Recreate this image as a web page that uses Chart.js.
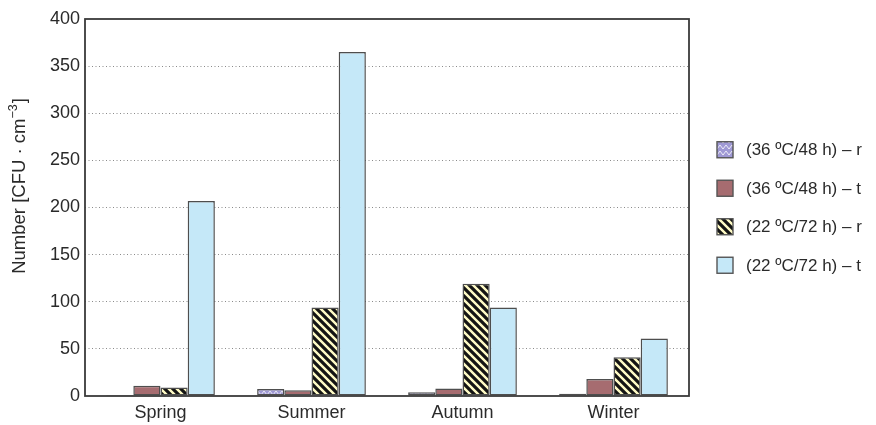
<!DOCTYPE html>
<html>
<head>
<meta charset="utf-8">
<script src="https://cdn.jsdelivr.net/npm/chart.js@4.4.1/dist/chart.umd.min.js"></script>
<style>
  html, body { margin: 0; padding: 0; background: #fff; }
  #wrap { width: 876px; height: 425px; position: relative; }
</style>
</head>
<body>
<div id="wrap"><canvas id="c" width="876" height="425"></canvas></div>
<script>
// Seasons on the category axis
const seasons = ['Spring', 'Summer', 'Autumn', 'Winter'];
// Series labels
const seriesLabels = ['(36 ºC/48 h) – r', '(36 ºC/48 h) – t', '(22 ºC/72 h) – r', '(22 ºC/72 h) – t'];
// Counts, CFU per cm³
const r36 = [1, 7.5, 4, 2.5];
const t36 = [11, 6, 8, 18];
const r22 = [9, 94, 119, 41];
const t22 = [207, 365, 94, 61];
// Value axis ticks
const yTicks = [0, 50, 100, 150, 200, 250, 300, 350, 400];
// Value axis title: main part and raised exponent
const yTitleMain = 'Number [CFU · cm';
const yTitleExp = '−3';
const yTitleEnd = ']';

const FONT = '"Liberation Sans", Arial, sans-serif';
const INK = '#2a2a2a';

function makeTile(size, paint) {
  const cv = document.createElement('canvas');
  cv.width = size; cv.height = size;
  const g = cv.getContext('2d');
  paint(g, size);
  return document.getElementById('c').getContext('2d').createPattern(cv, 'repeat');
}

// lavender with a light zigzag lattice
const latticeFill = makeTile(6, (g, s) => {
  g.fillStyle = '#9f99d4';
  g.fillRect(0, 0, s, s);
  g.strokeStyle = 'rgba(255,255,255,0.8)';
  g.lineWidth = 1;
  g.beginPath();
  g.moveTo(0, 1); g.lineTo(s / 2, s - 1); g.lineTo(s, 1);
  g.stroke();
});

// black / cream diagonal stripes
const stripeFill = makeTile(8, (g, s) => {
  g.fillStyle = '#fffbc6';
  g.fillRect(0, 0, s, s);
  g.strokeStyle = '#141414';
  g.lineWidth = 3.2;
  g.beginPath();
  for (let k = -2; k <= 2; k++) {
    g.moveTo(k * s - s, -s);
    g.lineTo(k * s + 2 * s, 2 * s);
  }
  g.stroke();
});

const fills = [latticeFill, '#a66c70', stripeFill, '#c5e8f8'];
const series = [r36, t36, r22, t22];

// frame around the plot area
const framePlugin = {
  id: 'frame',
  afterDatasetsDraw(chart) {
    const { ctx, chartArea: a } = chart;
    ctx.save();
    ctx.strokeStyle = '#3a3a3a';
    ctx.lineWidth = 1.8;
    ctx.strokeRect(a.left, a.top, a.right - a.left, a.bottom - a.top);
    ctx.restore();
  }
};

// rotated value-axis title with a raised exponent
const yTitlePlugin = {
  id: 'yTitle',
  afterDraw(chart) {
    const { ctx } = chart;
    const main = '18.5px ' + FONT;
    const small = '12.5px ' + FONT;
    ctx.save();
    ctx.font = main;
    const w1 = ctx.measureText(yTitleMain).width;
    const w3 = ctx.measureText(yTitleEnd).width;
    ctx.font = small;
    const w2 = ctx.measureText(yTitleExp).width;
    const total = w1 + w2 + w3 + 1;
    ctx.translate(20, 186);
    ctx.rotate(-Math.PI / 2);
    ctx.fillStyle = INK;
    ctx.textBaseline = 'middle';
    ctx.textAlign = 'left';
    let x = -total / 2;
    ctx.font = main;
    ctx.fillText(yTitleMain, x, 0);
    x += w1;
    ctx.font = small;
    ctx.fillText(yTitleExp, x, -6);
    x += w2 + 1;
    ctx.font = main;
    ctx.fillText(yTitleEnd, x, 0);
    ctx.restore();
  }
};

// legend column to the right of the plot
const sideLegend = {
  id: 'sideLegend',
  afterDraw(chart) {
    const { ctx, chartArea: a } = chart;
    const mid = (a.top + a.bottom) / 2;
    const gap = 38.5;
    const n = chart.data.datasets.length;
    ctx.save();
    ctx.font = '17px ' + FONT;
    ctx.textBaseline = 'middle';
    chart.data.datasets.forEach((ds, i) => {
      const cy = mid + (i - (n - 1) / 2) * gap;
      const bx = a.right + 28;
      ctx.fillStyle = ds.backgroundColor;
      ctx.fillRect(bx, cy - 8, 16, 16);
      ctx.strokeStyle = '#555';
      ctx.lineWidth = 1.4;
      ctx.strokeRect(bx, cy - 8, 16, 16);
      ctx.fillStyle = INK;
      ctx.fillText(ds.label, bx + 29, cy + 1);
    });
    ctx.restore();
  }
};

new Chart(document.getElementById('c'), {
  type: 'bar',
  data: {
    labels: seasons,
    datasets: series.map((vals, i) => ({
      label: seriesLabels[i],
      data: vals,
      backgroundColor: fills[i],
      borderColor: '#4e4e4e',
      borderWidth: 1.5,
      borderSkipped: false,
      categoryPercentage: 0.72,
      barPercentage: 1.0
    }))
  },
  options: {
    responsive: false,
    animation: false,
    devicePixelRatio: 1,
    layout: { padding: { top: 19, right: 187, bottom: 0, left: 0 } },
    plugins: {
      legend: { display: false },
      tooltip: { enabled: false }
    },
    scales: {
      x: {
        grid: { display: false, drawTicks: false },
        border: { display: false },
        ticks: { color: INK, font: { family: FONT, size: 18 }, padding: 6 },
        afterFit(s) { s.height = 29; }
      },
      y: {
        min: 0,
        max: 400,
        afterBuildTicks(s) { s.ticks = yTicks.map(v => ({ value: v })); },
        grid: {
          drawTicks: false,
          color: (c) => (c.tick.value === 0 || c.tick.value === 400) ? 'rgba(0,0,0,0)' : '#8a8a8a',
          lineWidth: 1
        },
        border: { display: false, dash: [1, 2.5] },
        ticks: { color: INK, font: { family: FONT, size: 18 }, padding: 5 },
        afterFit(s) { s.width = 85; }
      }
    }
  },
  plugins: [framePlugin, yTitlePlugin, sideLegend]
});
</script>
</body>
</html>
